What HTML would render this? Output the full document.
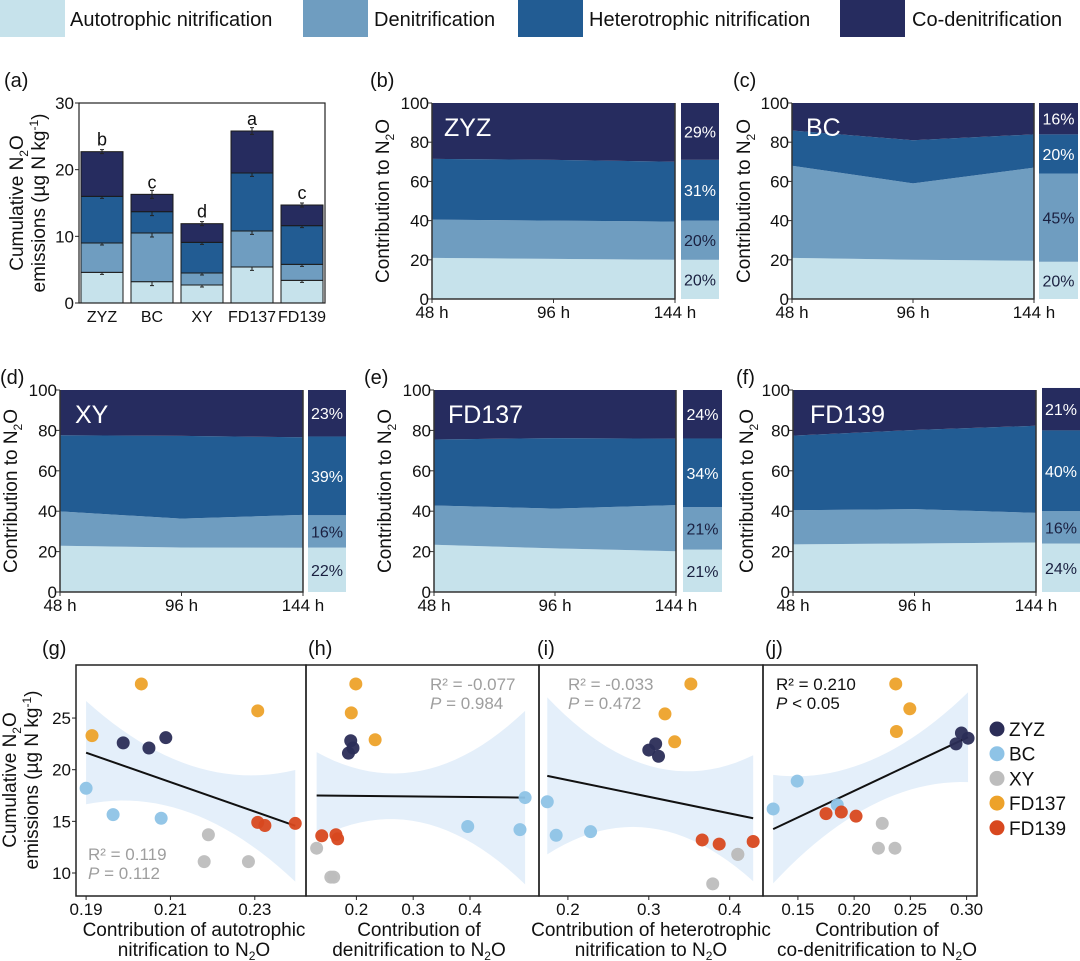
<!DOCTYPE html>
<html><head><meta charset="utf-8"><style>
html,body{margin:0;padding:0;background:#fff;}
svg{display:block;font-family:"Liberation Sans",Arial,sans-serif;}
</style></head><body>
<svg id="fig" width="1080" height="961" viewBox="0 0 1080 961" xmlns="http://www.w3.org/2000/svg">
<defs>
<clipPath id="cg"><rect x="76" y="665" width="230" height="231"/></clipPath>
<clipPath id="ch"><rect x="306" y="665" width="233" height="231"/></clipPath>
<clipPath id="ci"><rect x="539" y="665" width="224" height="231"/></clipPath>
<clipPath id="cj"><rect x="763" y="665" width="214" height="231"/></clipPath>
</defs>
<g>
<rect x="0" y="0" width="65" height="37" fill="#c6e2eb"/>
<text x="70" y="26" font-size="20" fill="#111">Autotrophic nitrification</text>
<rect x="303" y="0" width="65" height="37" fill="#6f9dc0"/>
<text x="374" y="26" font-size="20" fill="#111">Denitrification</text>
<rect x="518" y="0" width="65" height="37" fill="#225c93"/>
<text x="589" y="26" font-size="20" fill="#111">Heterotrophic nitrification</text>
<rect x="840" y="0" width="65" height="37" fill="#262c5f"/>
<text x="912" y="26" font-size="20" fill="#111">Co-denitrification</text>
</g>
</svg>
<script>
// ---------- Panel (a) data ----------
const barCats = ['ZYZ','BC','XY','FD137','FD139'];
const barAut = [4.6,3.2,2.7,5.4,3.4];
const barDen = [4.4,7.3,1.8,5.4,2.4];
const barHet = [7.0,3.2,4.6,8.7,5.8];
const barCo  = [6.7,2.6,2.8,6.3,3.1];
const barErr = [0.3,0.6,0.3,0.5,0.3];
const barLetters = ['b','c','d','a','c'];
const barTicks = [0,10,20,30];

// ---------- Panels (b)-(f) data ----------
const areaNames = ['ZYZ','BC','XY','FD137','FD139'];
const areaTimes = [48,96,144];
const areaTimeLabels = ['48 h','96 h','144 h'];
const areaAut = [[21,20.5,20],[21,20,19.5],[22.9,22,21.9],[23.4,21.6,20.2],[23.6,24,24.5]];
const areaDen = [[19.5,19.5,19.5],[47,39,47.5],[17,14.3,16.3],[19.4,19.7,22.8],[16.9,17,14.7]];
const areaHet = [[31,31,30.5],[18,22,17],[37.7,41,38.4],[32.7,34.9,32.9],[36.9,39.2,43.1]];
const sideAut = [20,19,22,21,24];
const sideDen = [20,45,16,21,16];
const sideHet = [31,20,39,34,40];
const sideCo  = [29,16,23,24,21];
const sideLabels = [['20%','20%','31%','29%'],['20%','45%','20%','16%'],['22%','16%','39%','23%'],['21%','21%','34%','24%'],['24%','16%','40%','21%']];
const areaTicks = [0,20,40,60,80,100];

// ---------- Panels (g)-(j) data ----------
const sites = ['ZYZ','BC','XY','FD137','FD139'];
const siteColors = ['#2b2d57','#8ec3e6','#bdbdbd','#eda22a','#d8481f'];
const ptGroup = [0,0,0,1,1,1,2,2,2,3,3,3,4,4,4];
const gX = [0.1988,0.2049,0.2089,0.19,0.1964,0.2078,0.219,0.218,0.2285,0.2031,0.1914,0.2307,0.2307,0.2324,0.2396];
const gY = [22.6,22.1,23.1,18.2,15.65,15.3,13.7,11.1,11.1,28.3,23.3,25.7,14.9,14.6,14.8];
const hX = [0.190,0.194,0.186,0.497,0.396,0.488,0.130,0.155,0.160,0.199,0.191,0.233,0.139,0.164,0.167];
const hY = [22.8,22.1,21.6,17.3,14.5,14.2,12.4,9.6,9.6,28.3,25.5,22.9,13.6,13.7,13.3];
const iX = [0.3085,0.300,0.312,0.1745,0.1855,0.228,0.41,0.379,0.41,0.352,0.32,0.332,0.366,0.387,0.429];
const iY = [22.5,21.9,21.3,16.9,13.65,14.0,11.8,8.95,11.8,28.3,25.4,22.7,13.2,12.8,13.05];
const jX = [0.2954,0.2906,0.3013,0.1494,0.128,0.185,0.225,0.2216,0.2363,0.237,0.2495,0.2376,0.175,0.1886,0.2017];
const jY = [23.55,22.5,23.05,18.9,16.2,16.6,14.8,12.4,12.4,28.3,25.9,23.7,15.75,15.9,15.5];
const fitX = [[0.19,0.2396],[0.13,0.497],[0.1745,0.429],[0.128,0.3013]];
const fitY = [[21.65,14.57],[17.5,17.3],[19.4,15.3],[14.25,23.15]];
const bandHalf = [[5,2.3,5.4],[4.2,2.5,8.4],[7.6,3,6.1],[5.25,2.2,4.35]];
const statR2 = ['R\u00B2 = 0.119','R\u00B2 = -0.077','R\u00B2 = -0.033','R\u00B2 = 0.210'];
const statP = [' = 0.112',' = 0.984',' = 0.472',' < 0.05'];
const scTicksY = [10,15,20,25];
const scTicks = [[0.19,0.21,0.23],[0.2,0.3,0.4],[0.2,0.3,0.4],[0.15,0.20,0.25,0.30]];
const scTickLabels = [['0.19','0.21','0.23'],['0.2','0.3','0.4'],['0.2','0.3','0.4'],['0.15','0.20','0.25','0.30']];

const NS='http://www.w3.org/2000/svg';
const svg=document.getElementById('fig');
const COL=['#c6e2eb','#6f9dc0','#225c93','#262c5f'];
function mk(tag,attrs,parent,text){const e=document.createElementNS(NS,tag);for(const k in attrs)e.setAttribute(k,attrs[k]);if(text!==undefined)e.textContent=text;(parent||svg).appendChild(e);return e;}
function ytitle(parent,x,y,lines,name){
  const t=mk('text',{x:0,y:0,'font-size':19,fill:'#111','text-anchor':'middle',transform:'translate('+x+','+y+') rotate(-90)'},parent);
  
  
  lines(t);
  return t;
}
function ts(t,txt,attrs){const s=mk('tspan',attrs||{},t,txt);return s;}

// ================= Panel (a) =================
const ga=mk('g',{});


const aX0=79,aX1=325,aY0=103,aY1=303;
function ya(v){return aY1-v*(aY1-aY0)/30;}
function xa(i){return 102+i*50;}
let lab=mk('text',{x:4,y:87,'font-size':20,fill:'#111'},ga,'(a)');


barCats.forEach((c,i)=>{
  const segs=[barAut[i],barDen[i],barHet[i],barCo[i]];
  let base=0;
  segs.forEach((s,k)=>{
    const r=mk('rect',{x:xa(i)-21,y:ya(base+s),width:42,height:ya(base)-ya(base+s),fill:COL[k],stroke:'#1a1a1a','stroke-width':1},ga);
    
    
    base+=s;
    const e=mk('path',{d:'M'+xa(i)+','+ya(base-barErr[i])+'V'+ya(base+barErr[i])+'M'+(xa(i)-2)+','+ya(base-barErr[i])+'h4M'+(xa(i)-2)+','+ya(base+barErr[i])+'h4',stroke:'#222','stroke-width':1,fill:'none'},ga);
    
    
  });
  const l=mk('text',{x:xa(i),y:ya(base)-6,'font-size':18,'text-anchor':'middle',fill:'#111'},ga,barLetters[i]);
  
  
  const xl=mk('text',{x:xa(i),y:322,'font-size':16,'text-anchor':'middle',fill:'#111'},ga,c);
  
  
});
const fa=mk('rect',{x:aX0,y:aY0,width:aX1-aX0,height:aY1-aY0,fill:'none',stroke:'#222','stroke-width':1.2},ga);


barTicks.forEach(v=>{
  const tk=mk('line',{x1:aX0-4,x2:aX0,y1:ya(v),y2:ya(v),stroke:'#222'},ga);
  
  
  const tl=mk('text',{x:aX0-5,y:ya(v)+6,'font-size':17,'text-anchor':'end',fill:'#111'},ga,String(v));
  
  
});
ytitle(ga,23,203,t=>{ts(t,'Cumulative N',{x:0,dy:0});ts(t,'2',{'font-size':12,dy:5});ts(t,'O',{dy:-5});ts(t,'emissions (\u00B5g N kg',{x:0,dy:22});ts(t,'-1',{'font-size':12,dy:-7});ts(t,')',{dy:7});},'y-axis-title');

// ================= Panels (b)-(f) =================
const areaGeo=[
 {x0:432,x1:675,y0:103,y1:299,s0:681,s1:719,lx:370,ly:87,tx:389,nx:444,ny:136,id:'b'},
 {x0:792,x1:1034,y0:103,y1:299,s0:1039,s1:1078,lx:733,ly:87,tx:750,nx:806,ny:136,id:'c'},
 {x0:60,x1:303,y0:390,y1:592,s0:308,s1:346,lx:0,ly:384,tx:17,nx:75,ny:423,id:'d'},
 {x0:434,x1:676,y0:390,y1:592,s0:683,s1:722,lx:364,ly:384,tx:391,nx:448,ny:423,id:'e'},
 {x0:793,x1:1036,y0:390,y1:592,s0:1042,s1:1080,lx:736,ly:384,tx:753,nx:810,ny:423,id:'f'}
];
areaNames.forEach((nm,p)=>{
  const G=areaGeo[p];
  const g=mk('g',{});
  
  
  const xs=t=>G.x0+(t-48)/(144-48)*(G.x1-G.x0);
  const ys=v=>G.y1-v/100*(G.y1-G.y0);
  const layers=[areaAut[p],areaDen[p],areaHet[p]];
  let lower=[0,0,0];
  for(let k=0;k<4;k++){
    const upper=k<3?lower.map((b,i)=>b+layers[k][i]):[100,100,100];
    let d='M'+areaTimes.map((t,i)=>xs(t)+','+ys(upper[i])).join('L');
    d+='L'+areaTimes.slice().reverse().map((t,ii)=>{const i=2-ii;return xs(t)+','+ys(lower[i]);}).join('L')+'Z';
    const a=mk('path',{d:d,fill:COL[k]},g);
    
    
    lower=upper;
  }
  const ax=mk('path',{d:'M'+G.x0+','+G.y0+'V'+G.y1+'H'+G.x1+'V'+G.y0,fill:'none',stroke:'#333','stroke-width':1.5},g);
  
  
  areaTicks.forEach(v=>{
    const tk=mk('line',{x1:G.x0-4,x2:G.x0,y1:ys(v),y2:ys(v),stroke:'#333'},g);
    
    
    const tl=mk('text',{x:G.x0-3,y:ys(v)+6,'font-size':17,'text-anchor':'end',fill:'#111'},g,String(v));
    
    
  });
  areaTimes.forEach((t,i)=>{
    const tk=mk('line',{x1:xs(t),x2:xs(t),y1:G.y1,y2:G.y1+4,stroke:'#333'},g);
    
    
    const tl=mk('text',{x:xs(t),y:G.y1+19,'font-size':17,'text-anchor':'middle',fill:'#111'},g,areaTimeLabels[i]);
    
    
  });
  const nl=mk('text',{x:G.nx,y:G.ny,'font-size':25,fill:'#fff'},g,nm);
  
  
  const pl=mk('text',{x:G.lx,y:G.ly,'font-size':20,fill:'#111'},g,'('+G.id+')');
  
  
  ytitle(g,G.tx,(G.y0+G.y1)/2,t=>{ts(t,'Contribution to N');ts(t,'2',{'font-size':12,dy:5});ts(t,'O',{dy:-5});},'y-axis-title');
  const sv=[sideAut[p],sideDen[p],sideHet[p],sideCo[p]];
  let b=0;
  sv.forEach((s,k)=>{
    const r=mk('rect',{x:G.s0,y:ys(b+s),width:G.s1-G.s0,height:ys(b)-ys(b+s),fill:COL[k]},g);
    
    
    const tl=mk('text',{x:(G.s0+G.s1)/2,y:(ys(b)+ys(b+s))/2+6,'font-size':16,'text-anchor':'middle',fill:k>=2?'#fff':'#1a2040'},g,sideLabels[p][k]);
    
    
    b+=s;
  });
});

// ================= Panels (g)-(j) =================
const scGeo=[
 {x0:76,x1:306,a:0.19,pa:86.1,k:4217,id:'g',clip:'cg',cx:194,lx:42},
 {x0:306,x1:539,a:0.2,pa:356.4,k:568,id:'h',clip:'ch',cx:419,lx:308},
 {x0:539,x1:763,a:0.2,pa:567.9,k:809,id:'i',clip:'ci',cx:651,lx:537},
 {x0:763,x1:977,a:0.15,pa:797.9,k:1124.7,id:'j',clip:'cj',cx:877,lx:765}
];
const SY0=665,SY1=896;
function ysc(v){return 873-(v-10)*10.33;}
const scX=[gX,hX,iX,jX], scY=[gY,hY,iY,jY];
const xTitles=[['Contribution of autotrophic','nitrification to N'],['Contribution of','denitrification to N'],['Contribution of heterotrophic','nitrification to N'],['Contribution of','co-denitrification to N']];
scGeo.forEach((G,p)=>{
  const g=mk('g',{});
  
  
  const xs=v=>G.pa+(v-G.a)*G.k;
  const cg=mk('g',{'clip-path':'url(#'+G.clip+')'},g);
  
  
  const xa0=fitX[p][0],xa1=fitX[p][1],xm=(xa0+xa1)/2;
  const hw=bandHalf[p];
  const hwAt=x=>{const L0=(x-xm)*(x-xa1)/((xa0-xm)*(xa0-xa1)),L1=(x-xa0)*(x-xa1)/((xm-xa0)*(xm-xa1)),L2=(x-xa0)*(x-xm)/((xa1-xa0)*(xa1-xm));return hw[0]*L0+hw[1]*L1+hw[2]*L2;};
  const lineAt=x=>fitY[p][0]+(x-xa0)/(xa1-xa0)*(fitY[p][1]-fitY[p][0]);
  const N=24;let up=[],lo=[];
  for(let s=0;s<=N;s++){const x=xa0+(xa1-xa0)*s/N;up.push(xs(x)+','+ysc(lineAt(x)+hwAt(x)));lo.unshift(xs(x)+','+ysc(lineAt(x)-hwAt(x)));}
  const band=mk('path',{d:'M'+up.join('L')+'L'+lo.join('L')+'Z',fill:'#e4effa'},cg);
  
  
  const fl=mk('line',{x1:xs(xa0),y1:ysc(fitY[p][0]),x2:xs(xa1),y2:ysc(fitY[p][1]),stroke:'#111','stroke-width':2},cg);
  
  
  scX[p].forEach((x,i)=>{
    const c=mk('circle',{cx:xs(x),cy:ysc(scY[p][i]),r:6.5,fill:siteColors[ptGroup[i]],opacity:0.95},cg);
    
    
  });
  const fr=mk('rect',{x:G.x0,y:SY0,width:G.x1-G.x0,height:SY1-SY0,fill:'none',stroke:'#222','stroke-width':1.5},g);
  
  
  scTicks[p].forEach((v,i)=>{
    const tk=mk('line',{x1:xs(v),x2:xs(v),y1:SY1,y2:SY1+4,stroke:'#222'},g);
    
    
    const tl=mk('text',{x:xs(v),y:SY1+19,'font-size':17,'text-anchor':'middle',fill:'#111'},g,scTickLabels[p][i]);
    
    
  });
  const xt=mk('text',{x:G.cx,y:936,'font-size':19,'text-anchor':'middle',fill:'#111'},g);
  
  
  ts(xt,xTitles[p][0],{x:G.cx,dy:0});ts(xt,xTitles[p][1],{x:G.cx,dy:20});ts(xt,'2',{'font-size':12,dy:4});ts(xt,'O',{dy:-4});
  const pl=mk('text',{x:G.lx,y:655,'font-size':20,fill:'#111'},g,'('+G.id+')');
  
  
  const pos=[[88,860,'#9e9e9e'],[430,690,'#9e9e9e'],[568,690,'#9e9e9e'],[776,690,'#111']][p];
  const st=mk('text',{x:pos[0],y:pos[1],'font-size':17,fill:pos[2]},g);
  
  
  ts(st,statR2[p],{x:pos[0],dy:0});ts(st,'P',{x:pos[0],dy:19,'font-style':'italic'});ts(st,statP[p]);
});
const gy=mk('g',{});


scTicksY.forEach(v=>{
  const tk=mk('line',{x1:72,x2:76,y1:ysc(v),y2:ysc(v),stroke:'#222'},gy);
  
  
  const tl=mk('text',{x:71,y:ysc(v)+6,'font-size':17,'text-anchor':'end',fill:'#111'},gy,String(v));
  
  
});
ytitle(gy,16,780,t=>{ts(t,'Cumulative N',{x:0,dy:0});ts(t,'2',{'font-size':12,dy:5});ts(t,'O',{dy:-5});ts(t,'emissions (\u00B5g N kg',{x:0,dy:22});ts(t,'-1',{'font-size':12,dy:-7});ts(t,')',{dy:7});},'y-axis-title');
const lg=mk('g',{});


sites.forEach((s,i)=>{
  const yy=729+i*24.7;
  const c=mk('circle',{cx:997,cy:yy,r:7.5,fill:siteColors[i]},lg);
  
  
  const t=mk('text',{x:1009,y:yy+7,'font-size':19,fill:'#111'},lg,s);
  
  
});
</script>
</body></html>
